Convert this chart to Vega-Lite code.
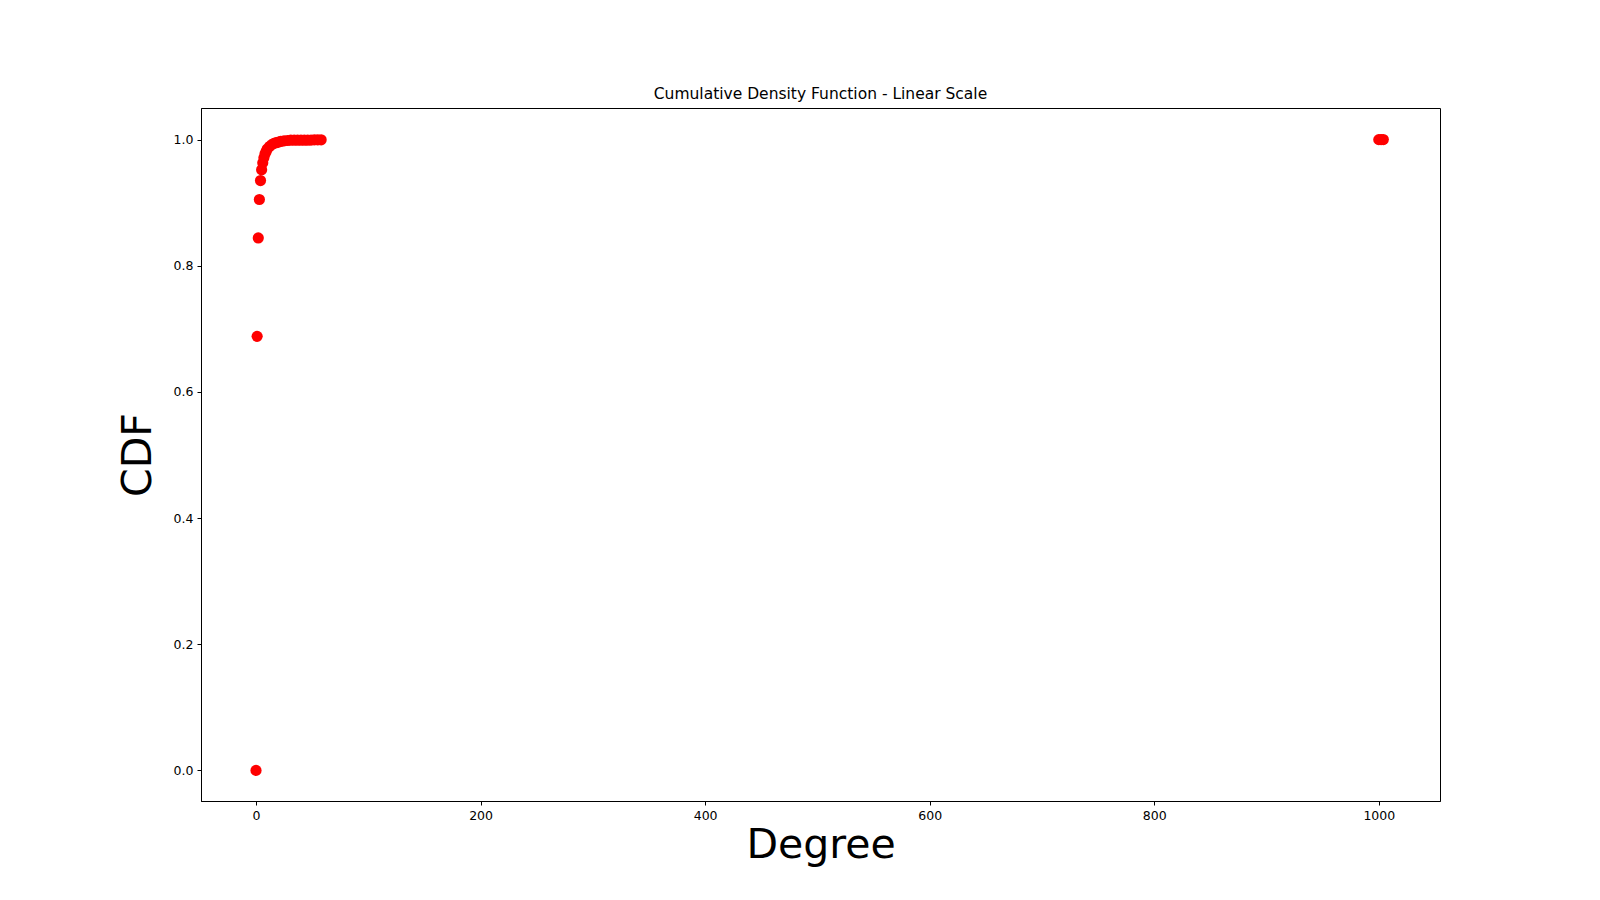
{
  "$schema": "https://vega.github.io/schema/vega-lite/v6.json",
  "width": 1239,
  "height": 693,
  "autosize": {"type": "none"},
  "padding": {"left": 201, "top": 108, "right": 160, "bottom": 99},
  "background": "#FFFFFF",
  "title": {"text": "Cumulative Density Function - Linear Scale", "fontSize": 15.5, "fontWeight": "normal", "font": "DejaVu Sans", "color": "#000000", "offset": 6},
  "data": {"values": [
    {"degree": 0, "cdf": 0.0}, {"degree": 1, "cdf": 0.688}, {"degree": 2, "cdf": 0.844},
    {"degree": 3, "cdf": 0.905}, {"degree": 4, "cdf": 0.935}, {"degree": 5, "cdf": 0.952},
    {"degree": 6, "cdf": 0.963}, {"degree": 7, "cdf": 0.971}, {"degree": 8, "cdf": 0.977},
    {"degree": 9, "cdf": 0.981}, {"degree": 10, "cdf": 0.985}, {"degree": 12, "cdf": 0.989},
    {"degree": 14, "cdf": 0.992}, {"degree": 16, "cdf": 0.994}, {"degree": 18, "cdf": 0.995},
    {"degree": 20, "cdf": 0.996}, {"degree": 22, "cdf": 0.997}, {"degree": 25, "cdf": 0.998},
    {"degree": 28, "cdf": 0.9985}, {"degree": 31, "cdf": 0.999}, {"degree": 34, "cdf": 0.999},
    {"degree": 37, "cdf": 0.999}, {"degree": 40, "cdf": 0.999}, {"degree": 43, "cdf": 0.999},
    {"degree": 46, "cdf": 0.999}, {"degree": 49, "cdf": 0.9992}, {"degree": 52, "cdf": 0.9994},
    {"degree": 55, "cdf": 0.9995}, {"degree": 58, "cdf": 0.9996},
    {"degree": 1000, "cdf": 0.9998}, {"degree": 1002, "cdf": 0.9999}, {"degree": 1004, "cdf": 1.0}
  ]},
  "mark": {"type": "point", "filled": true, "color": "#FF0000", "opacity": 1, "size": 125},
  "encoding": {
    "x": {"field": "degree", "type": "quantitative", "title": "Degree",
      "scale": {"domain": [-49, 1054.5], "nice": false, "zero": false},
      "axis": {"values": [0, 200, 400, 600, 800, 1000], "format": "d", "grid": false, "titleFontSize": 41, "titlePadding": 4}},
    "y": {"field": "cdf", "type": "quantitative", "title": "CDF",
      "scale": {"domain": [-0.0485, 1.05], "nice": false, "zero": false},
      "axis": {"values": [0, 0.2, 0.4, 0.6, 0.8, 1.0], "format": ".1f", "grid": false, "titleFontSize": 41, "titlePadding": 14}}
  },
  "config": {
    "font": "DejaVu Sans",
    "view": {"stroke": "#000000", "strokeWidth": 1},
    "axis": {"labelFontSize": 12.5, "labelColor": "#000000", "domainColor": "#000000", "tickColor": "#000000", "tickSize": 4, "labelPadding": 4, "titleFontWeight": "normal", "titleColor": "#000000"}
  }
}
